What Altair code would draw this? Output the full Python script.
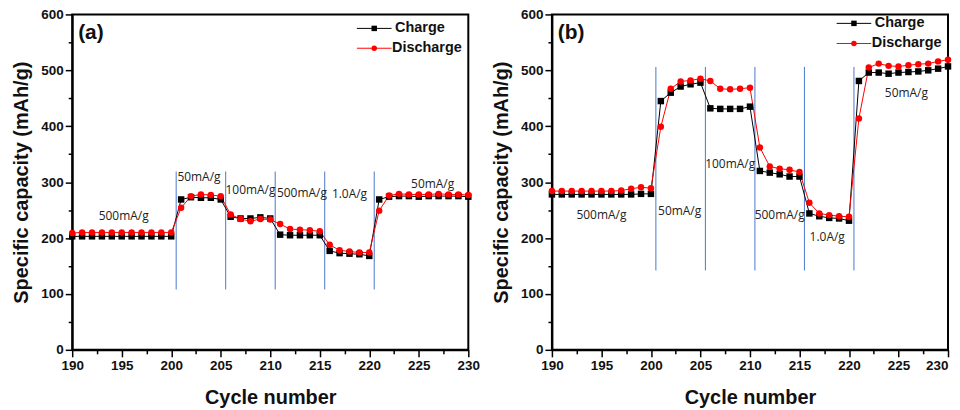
import altair as alt
import pandas as pd

cycles = list(range(190, 231))

a_charge = [203] * 11 + [269, 273, 272, 272, 269,
                         238, 235, 235, 237, 235,
                         206, 205, 205, 205, 205,
                         177, 173, 172, 171, 168,
                         269, 274, 275, 275, 274, 275, 275, 275, 275, 274]
a_discharge = [209] + [210] * 10 + [254, 275, 278, 277, 275,
                                    242, 234, 230, 234, 233,
                                    225, 216, 215, 214, 212,
                                    188, 178, 176, 174, 174,
                                    249, 276, 279, 278, 278, 278, 279, 278, 278, 277]
b_charge = [278] * 9 + [279, 279] + [445, 460, 471, 475, 478,
                                     432, 431, 431, 431, 435,
                                     320, 317, 314, 310, 310,
                                     244, 239, 236, 235, 231,
                                     481, 496, 496, 494, 496, 497, 498, 500, 503, 507]
b_discharge = [284] * 7 + [285, 288, 291, 289] + [399, 467, 480, 482, 485,
                                                  481, 467, 466, 467, 469,
                                                  362, 328, 324, 322, 318,
                                                  263, 244, 241, 239, 238,
                                                  414, 505, 512, 508, 507, 509, 511, 512, 516, 519]

series_names = ["Charge", "Discharge"]
series_colors = ["#000000", "#ff0000"]
series_shapes = ["square", "circle"]

boundaries = [200.5, 205.5, 210.5, 215.5, 220.5]
a_vline = [108, 319]
b_vline = [142, 506]

rate_labels = ["500mA/g", "50mA/g", "100mA/g", "500mA/g", "1.0A/g", "50mA/g"]
a_label_x = [195.2, 202.8, 208.0, 213.2, 218.0, 226.4]
a_label_y = [239, 310, 285, 281, 278, 296]
b_label_x = [195.0, 202.9, 208.0, 213.0, 217.8, 225.8]
b_label_y = [242, 249, 333, 242, 202, 460]

legend_line_x = [218.75, 222.25]
legend_marker_x = 220.5
legend_text_x = [222.6, 222.3]
a_legend_y = [575, 539.5]
b_legend_y = [584, 548]

panel_tags = ["(a)", "(b)"]
tag_pos = [190.6, 566]

x_ticks = [190 + 2.5 * i for i in range(17)]
y_ticks = [50 * i for i in range(13)]

X_SCALE = alt.Scale(domain=[190, 230], nice=False, zero=False)
Y_SCALE = alt.Scale(domain=[0, 600], nice=False)
COLOR = alt.Color("series:N", scale=alt.Scale(domain=series_names, range=series_colors), legend=None)
SHAPE = alt.Shape("series:N", scale=alt.Scale(domain=series_names, range=series_shapes), legend=None)


def make_x_axis(last_right):
    kw = dict(
        values=x_ticks,
        labelExpr="datum.value % 5 === 0 ? datum.label : ''",
        tickSize={"condition": {"test": "datum.value % 5 === 0", "value": 7}, "value": 4},
        grid=False, labelPadding=2, titlePadding=15, labelFlush=False,
    )
    if last_right:
        kw["labelAlign"] = {"condition": {"test": "datum.value >= 230", "value": "right"}, "value": "center"}
    return alt.Axis(**kw)


Y_AXIS = alt.Axis(
    values=y_ticks,
    labelExpr="datum.value % 100 === 0 ? datum.label : ''",
    tickSize={"condition": {"test": "datum.value % 100 === 0", "value": 7}, "value": 4},
    grid=False, labelPadding=2, titlePadding=9, labelFlush=False,
)


def panel(tag, charge, discharge, lab_x, lab_y, vline, leg_y, x_axis):
    def xe(field="cycle"):
        return alt.X(f"{field}:Q", scale=X_SCALE, axis=x_axis, title="Cycle number")

    def ye(field="cap"):
        return alt.Y(f"{field}:Q", scale=Y_SCALE, axis=Y_AXIS, title="Specific capacity (mAh/g)")

    df = pd.DataFrame({
        "cycle": cycles * 2,
        "cap": charge + discharge,
        "series": ["Charge"] * len(cycles) + ["Discharge"] * len(cycles),
    })
    lines = alt.Chart(df).mark_line(strokeWidth=1).encode(x=xe(), y=ye(), color=COLOR, detail="series:N")
    pts = alt.Chart(df).mark_point(filled=True, size=42, opacity=1).encode(
        x=xe(), y=ye(), color=COLOR, shape=SHAPE)

    vdf = pd.DataFrame({"cycle": boundaries, "cap": [vline[0]] * 5, "cap2": [vline[1]] * 5})
    vrules = alt.Chart(vdf).mark_rule(color="#4a78cc", strokeWidth=1).encode(
        x=xe(), y=ye(), y2="cap2:Q")

    tdf = pd.DataFrame({"cycle": lab_x, "cap": lab_y, "label": rate_labels})
    texts = alt.Chart(tdf).mark_text(font="Open Sans", fontSize=12, color="#222222").encode(
        x=xe(), y=ye(), text="label:N")

    tagdf = pd.DataFrame({"cycle": [tag_pos[0]], "cap": [tag_pos[1]], "label": [tag]})
    tagt = alt.Chart(tagdf).mark_text(font="Arial", fontSize=21, fontWeight="bold", align="left",
                                      color="#111111").encode(x=xe(), y=ye(), text="label:N")

    ldf = pd.DataFrame({
        "cycle": [legend_line_x[0]] * 2, "cycle2": [legend_line_x[1]] * 2,
        "mid": [legend_marker_x] * 2, "tx": legend_text_x,
        "cap": leg_y, "series": series_names,
    })
    lrule = alt.Chart(ldf).mark_rule(strokeWidth=1).encode(x=xe(), x2="cycle2:Q", y=ye(), color=COLOR)
    lpts = alt.Chart(ldf).mark_point(filled=True, size=30, opacity=1).encode(
        x=xe("mid"), y=ye(), color=COLOR, shape=SHAPE)
    ltxt = alt.Chart(ldf).mark_text(font="Arial", fontSize=14.5, fontWeight="bold", align="left",
                                    color="#111111").encode(x=xe("tx"), y=ye(), text="series:N")

    return alt.layer(vrules, lines, pts, texts, tagt, lrule, lpts, ltxt).properties(width=398, height=337)


pa = panel(panel_tags[0], a_charge, a_discharge, a_label_x, a_label_y, a_vline, a_legend_y,
           make_x_axis(False))
pb = panel(panel_tags[1], b_charge, b_discharge, b_label_x, b_label_y, b_vline, b_legend_y,
           make_x_axis(True))

chart = alt.hconcat(pa, pb, spacing=9).properties(
    padding={"left": 2.5, "top": -2.5, "right": -1, "bottom": 0}
).configure_view(stroke="#000000", strokeWidth=2).configure_axis(
    domainColor="#000000", domainWidth=2, tickColor="#000000", tickWidth=1.5,
    labelFont="Arial", labelFontSize=13.5, labelFontWeight="bold", labelColor="#111111",
    titleFont="Arial", titleFontSize=20, titleFontWeight="bold", titleColor="#111111",
)

chart.save("out.html", embed_options={"renderer": "svg", "actions": False})
